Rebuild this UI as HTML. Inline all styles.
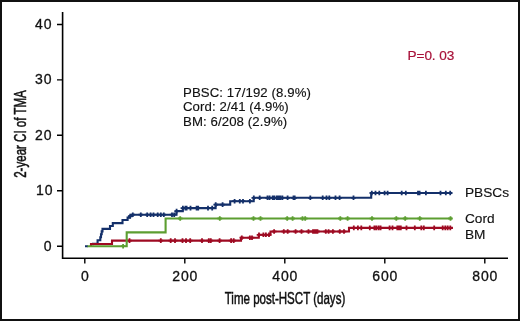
<!DOCTYPE html>
<html><head><meta charset="utf-8"><style>
html,body{margin:0;padding:0;background:#fff;}
svg{display:block;will-change:transform;}
text{font-family:"Liberation Sans",sans-serif;fill:#111;}
.tl{font-size:14px;letter-spacing:0.8px;stroke:#111;stroke-width:0.3px;}
.at{font-size:16px;stroke:#111;stroke-width:0.5px;}
.an{font-size:13.2px;letter-spacing:0.1px;stroke:#111;stroke-width:0.15px;}
.pv{font-size:13.6px;fill:#a8123a;stroke:#a8123a;stroke-width:0.2px;}
.lg{font-size:13.7px;stroke:#111;stroke-width:0.15px;}
</style></head><body>
<svg width="520" height="321" viewBox="0 0 520 321">
<rect x="1" y="1" width="518" height="319" fill="#fff" stroke="#111" stroke-width="2"/>
<path d="M85 246.2H88M93 245.2H93V243.7H97.6V240.2H100.3V237.2H101V234.3H101.7V231.4H102.5V228.9H110V226H112.8V223.1H122.5V220H127.6V217.6H129.8V216.1H131.6V214.7H176.5V211.1H182.8V208.1H215.6V204.6H230.2V201.2H253.7V197.8H371.2V193H452" fill="none" stroke="#14306a" stroke-width="2.1"/>
<path d="M130.2 213.8V218.4M127.9 216.1H132.5M132.8 212.4V217.0M130.5 214.7H135.1M140.8 212.4V217.0M138.5 214.7H143.1M147.2 212.4V217.0M144.9 214.7H149.5M150.6 212.4V217.0M148.3 214.7H152.9M153.5 212.4V217.0M151.2 214.7H155.8M157.7 212.4V217.0M155.4 214.7H160.0M160.8 212.4V217.0M158.5 214.7H163.1M163.8 212.4V217.0M161.5 214.7H166.1M172 212.4V217.0M169.7 214.7H174.3M174.2 212.4V217.0M171.9 214.7H176.5M176.6 208.8V213.4M174.3 211.1H178.9M182.9 205.8V210.4M180.6 208.1H185.2M185.4 205.8V210.4M183.1 208.1H187.7M186.6 205.8V210.4M184.3 208.1H188.9M190.5 205.8V210.4M188.2 208.1H192.8M196.6 205.8V210.4M194.3 208.1H198.9M198.2 205.8V210.4M195.9 208.1H200.5M208 205.8V210.4M205.7 208.1H210.3M212.2 205.8V210.4M209.9 208.1H214.5M215.7 202.3V206.9M213.4 204.6H218.0M222.6 202.3V206.9M220.3 204.6H224.9M234.6 198.9V203.5M232.3 201.2H236.9M239.8 198.9V203.5M237.5 201.2H242.1M243 198.9V203.5M240.7 201.2H245.3M249.9 198.9V203.5M247.6 201.2H252.2M253.8 195.5V200.1M251.5 197.8H256.1M259.7 195.5V200.1M257.4 197.8H262.0M267.5 195.5V200.1M265.2 197.8H269.8M269.6 195.5V200.1M267.3 197.8H271.9M272.7 195.5V200.1M270.4 197.8H275.0M274.5 195.5V200.1M272.2 197.8H276.8M276.9 195.5V200.1M274.6 197.8H279.2M278.6 195.5V200.1M276.3 197.8H280.9M280.4 195.5V200.1M278.1 197.8H282.7M282.4 195.5V200.1M280.1 197.8H284.7M287.6 195.5V200.1M285.3 197.8H289.9M293.5 195.5V200.1M291.2 197.8H295.8M294.7 195.5V200.1M292.4 197.8H297.0M310.3 195.5V200.1M308.0 197.8H312.6M322.7 195.5V200.1M320.4 197.8H325.0M326.5 195.5V200.1M324.2 197.8H328.8M329.3 195.5V200.1M327.0 197.8H331.6M335.5 195.5V200.1M333.2 197.8H337.8M339.6 195.5V200.1M337.3 197.8H341.9M353.5 195.5V200.1M351.2 197.8H355.8M371.8 190.7V195.3M369.5 193H374.1M375.5 190.7V195.3M373.2 193H377.8M379.3 190.7V195.3M377.0 193H381.6M384.6 190.7V195.3M382.3 193H386.9M387.6 190.7V195.3M385.3 193H389.9M401.7 190.7V195.3M399.4 193H404.0M405.8 190.7V195.3M403.5 193H408.1M418 190.7V195.3M415.7 193H420.3M419.6 190.7V195.3M417.3 193H421.9M425.9 190.7V195.3M423.6 193H428.2M440.5 190.7V195.3M438.2 193H442.8M445.8 190.7V195.3M443.5 193H448.1M450.2 190.7V195.3M447.9 193H452.5" fill="none" stroke="#14306a" stroke-width="1.8"/>

<path d="M91 246.2H91V244.0H112V240.6H241V237.7H258.8V234.8H270.5V231.5H349V227.9H452.9" fill="none" stroke="#9e0a22" stroke-width="2.1"/>
<path d="M129.5 238.3V242.9M127.2 240.6H131.8M160.8 238.3V242.9M158.5 240.6H163.1M170.7 238.3V242.9M168.4 240.6H173.0M175 238.3V242.9M172.7 240.6H177.3M182.5 238.3V242.9M180.2 240.6H184.8M186 238.3V242.9M183.7 240.6H188.3M190.2 238.3V242.9M187.9 240.6H192.5M202 238.3V242.9M199.7 240.6H204.3M208.8 238.3V242.9M206.5 240.6H211.1M210.8 238.3V242.9M208.5 240.6H213.1M219.6 238.3V242.9M217.3 240.6H221.9M231.1 238.3V242.9M228.8 240.6H233.4M233.7 238.3V242.9M231.4 240.6H236.0M241.8 235.4V240.0M239.5 237.7H244.1M249.9 235.4V240.0M247.6 237.7H252.2M252 235.4V240.0M249.7 237.7H254.3M259 232.5V237.1M256.7 234.8H261.3M263.4 232.5V237.1M261.1 234.8H265.7M265.9 232.5V237.1M263.6 234.8H268.2M269 232.5V237.1M266.7 234.8H271.3M274.1 229.2V233.8M271.8 231.5H276.4M283.8 229.2V233.8M281.5 231.5H286.1M287.7 229.2V233.8M285.4 231.5H290.0M295.6 229.2V233.8M293.3 231.5H297.9M301.5 229.2V233.8M299.2 231.5H303.8M308.5 229.2V233.8M306.2 231.5H310.8M313 229.2V233.8M310.7 231.5H315.3M314.5 229.2V233.8M312.2 231.5H316.8M316 229.2V233.8M313.7 231.5H318.3M317.5 229.2V233.8M315.2 231.5H319.8M325.8 229.2V233.8M323.5 231.5H328.1M328.6 229.2V233.8M326.3 231.5H330.9M332.9 229.2V233.8M330.6 231.5H335.2M339.8 229.2V233.8M337.5 231.5H342.1M344 229.2V233.8M341.7 231.5H346.3M353.8 225.6V230.2M351.5 227.9H356.1M357.9 225.6V230.2M355.6 227.9H360.2M361.3 225.6V230.2M359.0 227.9H363.6M369.8 225.6V230.2M367.5 227.9H372.1M374.4 225.6V230.2M372.1 227.9H376.7M376.3 225.6V230.2M374.0 227.9H378.6M378.6 225.6V230.2M376.3 227.9H380.9M380.6 225.6V230.2M378.3 227.9H382.9M389.6 225.6V230.2M387.3 227.9H391.9M392.5 225.6V230.2M390.2 227.9H394.8M397.3 225.6V230.2M395.0 227.9H399.6M399 225.6V230.2M396.7 227.9H401.3M400.8 225.6V230.2M398.5 227.9H403.1M406.5 225.6V230.2M404.2 227.9H408.8M414.8 225.6V230.2M412.5 227.9H417.1M421.3 225.6V230.2M419.0 227.9H423.6M423.8 225.6V230.2M421.5 227.9H426.1M434.2 225.6V230.2M431.9 227.9H436.5M442.7 225.6V230.2M440.4 227.9H445.0M445.3 225.6V230.2M443.0 227.9H447.6M447.7 225.6V230.2M445.4 227.9H450.0M450.3 225.6V230.2M448.0 227.9H452.6" fill="none" stroke="#9e0a22" stroke-width="1.8"/>

<path d="M87.5 246.2H126.7V232.4H165.6V218.5H452" fill="none" stroke="#5c9e31" stroke-width="2.1"/>
<path d="M123.1 243.9V248.5M120.8 246.2H125.4M180.2 216.2V220.8M177.9 218.5H182.5M219.8 216.2V220.8M217.5 218.5H222.1M253.5 216.2V220.8M251.2 218.5H255.8M260.5 216.2V220.8M258.2 218.5H262.8M287.2 216.2V220.8M284.9 218.5H289.5M292.6 216.2V220.8M290.3 218.5H294.9M302.5 216.2V220.8M300.2 218.5H304.8M305.2 216.2V220.8M302.9 218.5H307.5M340.3 216.2V220.8M338.0 218.5H342.6M347.6 216.2V220.8M345.3 218.5H349.9M372 216.2V220.8M369.7 218.5H374.3M396.3 216.2V220.8M394.0 218.5H398.6M405.2 216.2V220.8M402.9 218.5H407.5M419.8 216.2V220.8M417.5 218.5H422.1M450.5 216.2V220.8M448.2 218.5H452.8" fill="none" stroke="#5c9e31" stroke-width="1.8"/>

<path d="M62.6 12V259M61.8 258.2H508" stroke="#000" stroke-width="1.6" fill="none"/>
<path d="M57 246.2H62M57 190.8H62M57 135.3H62M57 79.9H62M57 24.5H62M84.8 259V263.5M184.8 259V263.5M284.8 259V263.5M384.8 259V263.5M484.8 259V263.5" stroke="#000" stroke-width="1.4" fill="none"/>
<text x="52.3" y="250.7" text-anchor="end" class="tl">0</text>
<text x="53.3" y="195.3" text-anchor="end" class="tl">10</text>
<text x="52.3" y="139.8" text-anchor="end" class="tl">20</text>
<text x="52.3" y="84.4" text-anchor="end" class="tl">30</text>
<text x="52.3" y="29.0" text-anchor="end" class="tl">40</text>
<text x="85.2" y="280.5" text-anchor="middle" class="tl">0</text>
<text x="185.2" y="280.5" text-anchor="middle" class="tl">200</text>
<text x="285.2" y="280.5" text-anchor="middle" class="tl">400</text>
<text x="385.2" y="280.5" text-anchor="middle" class="tl">600</text>
<text x="485.2" y="280.5" text-anchor="middle" class="tl">800</text>
<text x="285" y="304.2" text-anchor="middle" class="at" transform="translate(285 0) scale(0.722 1) translate(-285 0)">Time post-HSCT (days)</text>
<text transform="translate(25.6 134) rotate(-90) scale(0.722 1)" x="0" y="0" text-anchor="middle" class="at">2-year CI of TMA</text>
<text x="183" y="97.1" class="an">PBSC: 17/192 (8.9%)</text>
<text x="183" y="111.4" class="an">Cord: 2/41 (4.9%)</text>
<text x="183" y="125.7" class="an">BM: 6/208 (2.9%)</text>
<text x="407.6" y="59.5" class="pv" letter-spacing="-0.1">P=0. 03</text>
<text x="464.9" y="196.5" class="lg">PBSCs</text>
<text x="464.9" y="222.5" class="lg">Cord</text>
<text x="464.9" y="238.6" class="lg">BM</text>
</svg>
</body></html>
